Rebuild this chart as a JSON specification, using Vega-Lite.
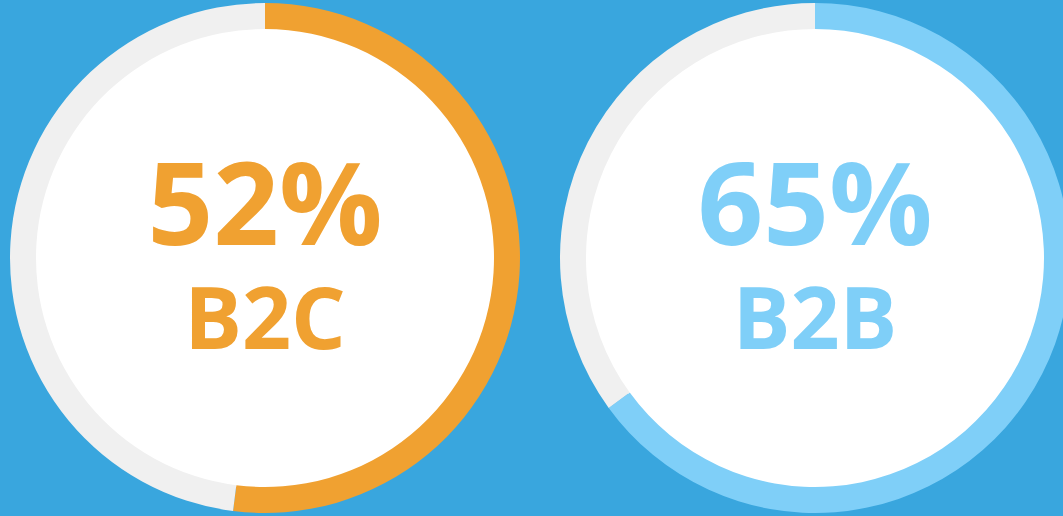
{
  "$schema": "https://vega.github.io/schema/vega-lite/v6.json",
  "background": "#39a6de",
  "padding": 0,
  "data": {"values": [
    {"panel": "B2C", "part": "value", "segment": "B2C", "v": 52, "idx": 1, "pct": "52%"},
    {"panel": "B2C", "part": "rest", "segment": "rest", "v": 48, "idx": 2, "pct": "52%"},
    {"panel": "B2B", "part": "value", "segment": "B2B", "v": 65, "idx": 1, "pct": "65%"},
    {"panel": "B2B", "part": "rest", "segment": "rest", "v": 35, "idx": 2, "pct": "65%"}
  ]},
  "facet": {"column": {"field": "panel", "type": "nominal", "sort": ["B2C", "B2B"], "title": null, "header": {"labels": false, "title": null}}},
  "spacing": 20,
  "spec": {
    "width": 530,
    "height": 516,
    "layer": [
      {"mark": {"type": "arc", "radius": 231, "fill": "#ffffff", "theta": 0, "theta2": 6.2832}, "encoding": {}},
      {"mark": {"type": "arc", "radius": 255, "radius2": 229},
       "encoding": {
         "theta": {"field": "v", "type": "quantitative", "stack": true},
         "order": {"field": "idx", "type": "quantitative"},
         "color": {"field": "segment", "type": "nominal", "scale": {"domain": ["B2C", "B2B", "rest"], "range": ["#f0a131", "#7fcff8", "#f0f0f0"]}, "legend": null}
       }},
      {"transform": [{"filter": "datum.part == 'value'"}],
       "mark": {"type": "text", "font": "Open Sans", "fontWeight": "bold", "fontSize": 115, "baseline": "alphabetic", "align": "center", "dy": -13},
       "encoding": {"text": {"field": "pct", "type": "nominal"}, "color": {"field": "segment", "type": "nominal", "legend": null}}},
      {"transform": [{"filter": "datum.part == 'value'"}],
       "mark": {"type": "text", "font": "Open Sans", "fontWeight": "bold", "fontSize": 86, "baseline": "alphabetic", "align": "center", "dy": 91},
       "encoding": {"text": {"field": "panel", "type": "nominal"}, "color": {"field": "segment", "type": "nominal", "legend": null}}}
    ]
  },
  "config": {"view": {"stroke": null}}
}
